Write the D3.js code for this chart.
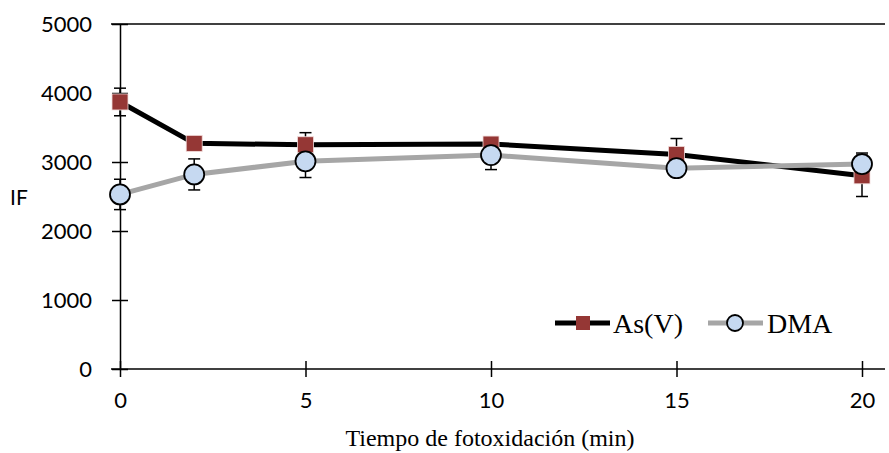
<!DOCTYPE html>
<html>
<head>
<meta charset="utf-8">
<script src="https://cdn.jsdelivr.net/npm/d3@7"></script>
<style>
  body { margin: 0; background: #fff; }
  svg { display: block; }
</style>
</head>
<body>
<svg id="chart" width="889" height="453"></svg>
<script>
// Photo-oxidation time (min)
const times = [0, 2, 5, 10, 15, 20];
// Fluorescence intensity, As(V)
const asV = [3870, 3270, 3250, 3260, 3110, 2800];
const asVErr = [200, 80, 175, 80, 230, 300];
// Fluorescence intensity, DMA
const dma = [2530, 2820, 3010, 3100, 2910, 2970];
const dmaErr = [220, 225, 235, 210, 120, 160];
const yTicks = [0, 1000, 2000, 3000, 4000, 5000];
const xTicks = [0, 5, 10, 15, 20];

const svg = d3.select("#chart");
const x = d3.scaleLinear().domain([0, 20]).range([120, 862]);
const y = d3.scaleLinear().domain([0, 5000]).range([369, 24]);

const sans = "Lato, 'Liberation Sans', sans-serif";
const serif = "'Liberation Serif', 'Times New Roman', serif";

// top boundary
svg.append("line")
  .attr("x1", 111).attr("x2", 885)
  .attr("y1", y(5000)).attr("y2", y(5000))
  .attr("stroke", "#000").attr("stroke-width", 1.5);

// y axis with ticks crossing the line
const yAxis = svg.append("g").attr("transform", "translate(120,0)")
  .call(d3.axisLeft(y).tickValues(yTicks).tickFormat(d3.format("d"))
    .tickSize(8).tickSizeOuter(0).tickPadding(20));
yAxis.select(".domain").attr("stroke", "#000").attr("stroke-width", 1.5);
yAxis.selectAll(".tick line").attr("x2", 8).attr("x1", -8).attr("stroke-width", 1.5);
yAxis.selectAll(".tick text").attr("font-family", sans).attr("font-size", 22).attr("fill", "#000");

// x axis
const xAxis = svg.append("g").attr("transform", `translate(0,${y(0)})`)
  .call(d3.axisBottom(x).tickValues(xTicks).tickFormat(d3.format("d"))
    .tickSize(8).tickSizeOuter(0).tickPadding(15));
xAxis.select(".domain").attr("d", `M111,0H885`).attr("stroke", "#000").attr("stroke-width", 1.5);
xAxis.selectAll(".tick line").attr("y1", -8).attr("y2", 8).attr("stroke-width", 1.5);
xAxis.selectAll(".tick text").attr("font-family", sans).attr("font-size", 22).attr("fill", "#000");

// axis titles
svg.append("text").attr("x", 490).attr("y", 446).attr("text-anchor", "middle")
  .attr("font-family", serif).attr("font-size", 24).text("Tiempo de fotoxidación (min)");
svg.append("text").attr("x", 10).attr("y", 205)
  .attr("font-family", sans).attr("font-size", 21).text("IF");

const asData = times.map((t, i) => ({ t, v: asV[i], e: asVErr[i] }));
const dmaData = times.map((t, i) => ({ t, v: dma[i], e: dmaErr[i] }));

function errorBars(data) {
  const g = svg.append("g").attr("stroke", "#000").attr("stroke-width", 1.5);
  data.forEach(d => {
    g.append("line").attr("x1", x(d.t)).attr("x2", x(d.t))
      .attr("y1", y(d.v - d.e)).attr("y2", y(d.v + d.e));
    [d.v - d.e, d.v + d.e].forEach(v => {
      g.append("line").attr("x1", x(d.t) - 6).attr("x2", x(d.t) + 6)
        .attr("y1", y(v)).attr("y2", y(v));
    });
  });
}
errorBars(dmaData);
errorBars(asData);

const line = d3.line().x(d => x(d.t)).y(d => y(d.v));
svg.append("path").datum(asData).attr("d", line)
  .attr("fill", "none").attr("stroke", "#000").attr("stroke-width", 5);
svg.append("path").datum(dmaData).attr("d", line)
  .attr("fill", "none").attr("stroke", "#a6a6a6").attr("stroke-width", 5);

const sq = 16;
svg.append("g").selectAll("rect").data(asData).join("rect")
  .attr("x", d => x(d.t) - sq / 2).attr("y", d => y(d.v) - sq / 2)
  .attr("width", sq).attr("height", sq)
  .attr("fill", "#953735").attr("stroke", "#f2dcdb").attr("stroke-width", 0.8);

svg.append("g").selectAll("circle").data(dmaData).join("circle")
  .attr("cx", d => x(d.t)).attr("cy", d => y(d.v)).attr("r", 10)
  .attr("fill", "#c6d9f1").attr("stroke", "#000").attr("stroke-width", 1.8);

// legend
const lg = svg.append("g");
lg.append("line").attr("x1", 555).attr("x2", 610).attr("y1", 323).attr("y2", 323)
  .attr("stroke", "#000").attr("stroke-width", 5);
lg.append("rect").attr("x", 576).attr("y", 316).attr("width", 14).attr("height", 14)
  .attr("fill", "#953735");
lg.append("text").attr("x", 613).attr("y", 333)
  .attr("font-family", serif).attr("font-size", 28).text("As(V)");
lg.append("line").attr("x1", 708).attr("x2", 763).attr("y1", 323).attr("y2", 323)
  .attr("stroke", "#a6a6a6").attr("stroke-width", 5);
lg.append("circle").attr("cx", 735).attr("cy", 323).attr("r", 8)
  .attr("fill", "#c6d9f1").attr("stroke", "#000").attr("stroke-width", 1.8);
lg.append("text").attr("x", 767).attr("y", 333)
  .attr("font-family", serif).attr("font-size", 28).text("DMA");
</script>
</body>
</html>
